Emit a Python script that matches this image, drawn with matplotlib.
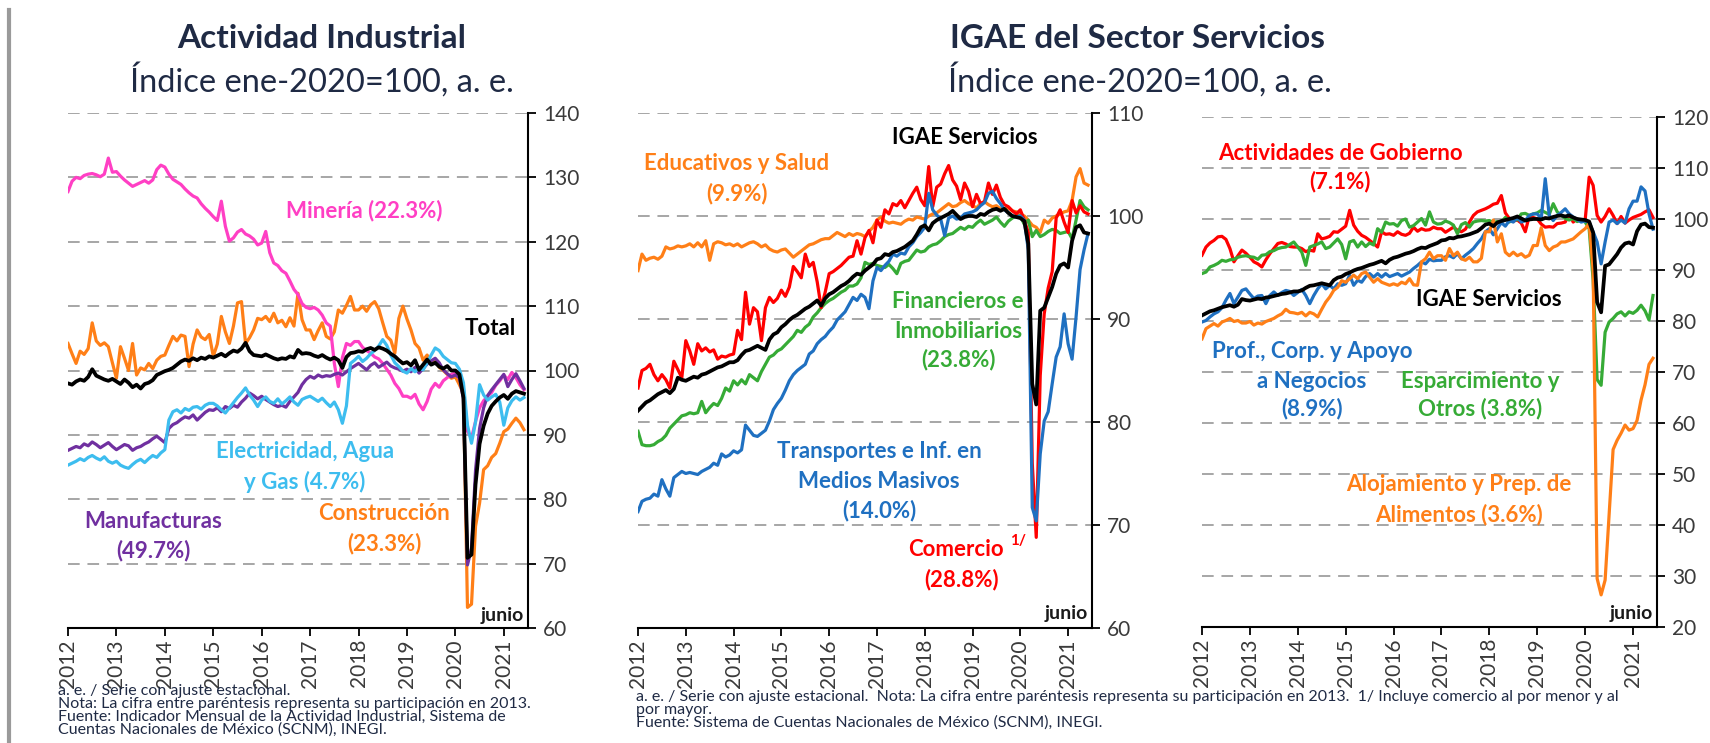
"""
Actividad Industrial e IGAE del Sector Servicios (índices ene-2020=100, a. e.)
Tres paneles con series mensuales ene-2012 a jun-2021.
"""

import numpy as np
import matplotlib
matplotlib.use("Agg")
import matplotlib.pyplot as plt

plt.rcParams["font.family"] = ["Lato", "DejaVu Sans"]

# ============================ DATOS ============================
# mensual, ene-2012 ... jun-2021 (114 observaciones)
START_YEAR = 2012
YEARS = list(range(2012, 2022))

# --- Actividad Industrial ---
ind_total = [
    98.0, 97.8, 98.3, 98.6, 98.4, 99.0, 100.2, 99.2, 98.9, 98.6, 98.4, 98.7,
    98.3, 97.9, 98.6, 98.1, 97.4, 97.8, 97.2, 97.9, 98.1, 98.5, 99.3, 99.6,
    99.9, 100.1, 100.4, 100.9, 101.4, 101.7, 101.5, 101.9, 101.6, 102.0, 101.8, 102.2,
    102.0, 102.3, 102.6, 102.2, 102.7, 103.1, 102.9, 103.4, 104.3, 103.0, 102.4, 102.3,
    102.2, 102.5, 102.2, 101.9, 101.7, 101.9, 101.8, 102.2, 102.0, 103.2, 102.6, 102.7,
    102.6, 102.3, 102.1, 102.4, 102.0, 101.7, 102.0, 101.6, 100.4, 102.1, 102.7, 102.8,
    103.0, 102.9, 103.3, 103.5, 103.2, 103.6, 103.4, 103.1, 102.6, 102.2, 101.6, 101.1,
    101.3, 100.8, 101.6, 100.1, 100.9, 101.7, 100.9, 101.2, 100.6, 100.3, 100.7, 100.0,
    100.0, 99.4, 95.8, 70.9, 71.4, 82.3, 88.6, 91.4, 93.3, 94.5, 95.2, 95.8,
    96.2, 95.6, 96.4, 96.8, 96.6, 96.4]
ind_manuf = [
    87.6, 87.9, 88.2, 88.0, 88.6, 88.3, 88.9, 88.5, 88.0, 88.4, 88.8, 88.2,
    87.7, 88.1, 88.5, 88.3, 87.6, 88.0, 88.2, 88.6, 88.9, 89.4, 89.8, 89.3,
    88.8, 91.0, 91.6, 91.9, 92.4, 92.8, 92.6, 93.1, 92.3, 92.9, 93.5, 93.9,
    93.8, 94.2, 93.6, 94.4, 94.1, 94.6, 94.3, 95.1, 95.7, 96.5, 96.1, 95.6,
    96.0, 95.5, 95.1, 94.7, 94.4, 94.6, 94.3, 95.2, 95.9, 96.6, 97.8, 98.6,
    99.1, 98.8, 99.3, 99.0, 99.2, 99.1, 99.4, 99.6, 99.3, 99.8, 100.3, 100.7,
    101.1, 100.6, 100.1, 100.8, 101.2, 100.5, 100.9, 101.3, 100.7, 100.4, 100.2, 99.9,
    100.2, 99.8, 100.5, 99.6, 100.3, 101.0, 101.5, 101.9, 101.2, 100.1, 99.5, 99.0,
    99.3, 98.9, 95.6, 69.8, 72.4, 84.5, 91.0, 94.2, 96.1, 97.0, 97.8, 98.6,
    99.4, 97.5, 98.6, 99.5, 98.4, 97.2]
ind_elec = [
    85.3, 85.6, 85.9, 86.3, 86.0, 86.5, 86.8, 86.4, 86.1, 86.6, 85.9, 85.6,
    85.9, 85.3, 85.0, 84.8, 85.4, 85.9, 86.2, 85.7, 86.3, 86.8, 86.5, 87.2,
    87.7, 92.3, 93.6, 93.9, 93.4, 94.1, 93.8, 94.3, 94.4, 94.0, 94.6, 94.9,
    94.9, 94.5, 93.9, 93.4, 94.2, 95.0, 95.8, 96.5, 97.3, 96.2, 95.4, 94.4,
    95.4, 95.9, 95.2, 94.9, 95.6, 94.8, 95.3, 95.9, 95.1, 94.6, 95.5, 95.8,
    96.0, 95.6, 95.2, 95.7, 95.0, 94.4, 95.1, 93.9, 91.8, 94.5, 101.1, 101.6,
    102.2, 101.4, 101.9, 102.6, 103.1, 103.8, 104.8, 103.9, 102.4, 101.2, 100.6, 99.9,
    99.6, 100.3, 99.8, 100.4, 100.1, 101.2, 102.4, 103.5, 103.1, 102.2, 101.7, 101.2,
    101.1, 100.2, 98.1, 91.5, 88.7, 92.0, 97.8, 96.2, 95.4, 95.9, 96.3, 95.1,
    91.5, 94.2, 95.3, 95.9, 95.4, 95.8]
ind_mineria = [
    127.8, 129.4, 130.0, 129.8, 130.3, 130.5, 130.6, 130.4, 130.1, 130.5, 133.0, 130.8,
    130.9, 130.2, 129.6, 129.1, 128.6, 128.9, 129.2, 129.5, 129.1, 129.6, 131.2, 131.9,
    131.6, 130.5, 129.7, 129.3, 128.9, 128.2, 127.6, 127.1, 126.8, 125.9, 125.2, 124.6,
    123.9, 123.3, 126.3, 122.4, 120.1, 120.6, 121.5, 121.9, 121.2, 120.9, 120.4, 119.5,
    119.8, 121.6, 118.3, 116.7, 116.3, 115.5, 115.1, 113.9, 112.6, 111.8, 110.4, 109.8,
    109.6, 109.8, 109.4, 108.6, 107.4, 106.9, 101.1, 97.5, 102.0, 104.2, 103.9, 104.5,
    104.5, 103.6, 103.1, 102.7, 102.1, 101.8, 101.1, 100.2, 99.3, 98.0, 97.2, 96.0,
    96.0, 95.7, 96.3, 94.8, 93.9, 95.2, 97.1, 98.0, 97.4, 98.4, 98.9, 99.4,
    99.6, 98.8, 97.2, 90.6, 89.5, 92.1, 94.2, 95.3, 96.0, 96.6, 97.7, 98.4,
    99.3, 98.6, 99.7, 98.9, 97.8, 97.0]
ind_constr = [
    104.2, 102.6, 101.1, 103.0, 102.5, 103.4, 107.4, 104.6, 103.9, 104.3, 103.7, 101.2,
    98.8, 103.7, 101.9, 100.0, 104.2, 99.3, 100.4, 100.1, 101.1, 100.3, 101.6, 102.2,
    102.4, 103.9, 105.3, 104.6, 105.5, 105.3, 100.6, 104.1, 106.3, 105.2, 104.8, 105.6,
    102.2, 104.1, 108.4, 106.0, 104.2, 106.9, 110.5, 110.7, 104.2, 105.1, 106.3, 108.1,
    107.9, 108.4, 107.6, 108.9, 107.4, 107.8, 106.8, 108.2, 106.9, 112.0, 107.9, 106.3,
    106.3, 104.8, 106.2, 107.4, 105.3, 104.9, 106.0, 109.4, 108.9, 110.1, 111.5, 109.4,
    109.4, 110.0, 109.2, 110.2, 110.7, 109.6, 107.4, 105.3, 104.7, 102.7, 108.1, 110.0,
    108.0, 106.3, 104.2, 103.5, 101.6, 102.4, 101.1, 101.8, 100.5, 100.0, 99.4, 98.8,
    99.0, 97.8, 96.4, 63.2, 63.7, 75.8, 79.4, 84.6, 85.2, 86.5, 87.1, 88.7,
    90.5, 90.9, 91.8, 92.6, 91.9, 90.8]

# --- IGAE Servicios ---
srv_total = [
    81.1, 81.5, 81.9, 82.1, 82.4, 82.7, 82.9, 83.1, 82.8, 83.2, 84.3, 84.1,
    84.0, 84.2, 84.4, 84.3, 84.6, 84.7, 84.9, 85.1, 85.3, 85.4, 85.6, 85.8,
    85.8, 86.0, 86.5, 86.9, 87.0, 87.2, 87.4, 87.2, 87.0, 88.0, 88.5, 88.7,
    89.2, 89.5, 89.9, 90.2, 90.4, 90.7, 91.0, 91.2, 91.5, 91.8, 91.3, 92.0,
    92.4, 92.6, 92.9, 93.2, 93.4, 93.7, 94.1, 94.4, 94.3, 94.7, 95.0, 95.3,
    95.8, 95.9, 96.3, 96.2, 96.5, 96.6, 96.8, 97.0, 97.3, 97.6, 98.2, 98.9,
    99.1, 98.6, 99.3, 99.6, 99.8, 100.0, 100.2, 100.5, 100.1, 99.7, 99.9, 100.0,
    100.0, 99.9, 100.2, 100.1, 100.4, 100.6, 100.7, 100.5, 100.7, 100.3, 100.0, 99.9,
    99.8, 99.5, 97.3, 83.7, 81.7, 90.8, 91.1, 92.1, 93.1, 94.4, 95.2, 95.4,
    95.0, 97.6, 98.9, 99.1, 98.4, 98.3]
srv_educ = [
    94.7, 96.3, 95.7, 95.9, 96.0, 95.8, 96.1, 97.0, 96.8, 96.9, 97.1, 97.0,
    97.1, 97.3, 97.0, 97.4, 97.0, 97.6, 95.7, 97.3, 97.5, 97.4, 97.2, 97.3,
    97.1, 97.3, 97.0, 97.2, 97.4, 97.5, 97.3, 97.0, 97.2, 96.8, 96.6, 96.5,
    96.7, 96.8, 96.4, 96.0, 96.3, 96.6, 96.9, 97.2, 97.3, 97.5, 97.7, 97.8,
    97.8, 98.1, 98.4, 98.2, 98.0, 98.3, 98.1, 98.3, 98.2, 98.0, 98.5, 98.9,
    99.6, 99.9, 99.5, 99.3, 99.4, 99.3, 99.2, 99.5, 99.7, 99.6, 99.9, 99.8,
    99.7, 100.0, 100.2, 100.3, 100.6, 100.9, 101.2, 100.9, 101.0, 101.3, 101.5, 101.2,
    101.0, 100.8, 101.2, 101.4, 101.1, 100.9, 101.0, 100.7, 100.6, 100.8, 100.5, 100.4,
    100.2, 100.0, 99.6, 99.1, 98.9, 98.4, 99.6, 99.3, 99.8, 100.0, 100.2, 100.4,
    100.5, 101.5, 103.8, 104.6, 103.2, 103.0]
srv_finan = [
    79.1, 77.8, 77.7, 77.7, 77.8, 78.1, 78.3, 78.7, 79.4, 79.8, 80.2, 80.6,
    80.7, 80.9, 80.8, 80.9, 82.0, 80.9, 81.4, 81.8, 81.6, 82.3, 83.3, 83.0,
    84.0, 83.6, 84.1, 83.7, 84.6, 84.3, 84.0, 84.9, 85.6, 86.3, 86.5, 86.9,
    87.1, 87.5, 87.9, 88.3, 88.9, 88.7, 89.2, 89.5, 90.2, 90.6, 91.1, 91.5,
    91.8, 92.0, 92.3, 92.6, 92.8, 93.2, 93.2, 93.4, 94.0, 95.5, 95.3, 95.4,
    95.2, 95.1, 95.0, 95.3, 94.9, 94.4, 95.4, 95.6, 95.7, 96.2, 96.7, 96.5,
    96.6, 97.0, 97.2, 97.3, 97.6, 98.0, 98.2, 98.3, 98.6, 98.9, 98.7, 99.0,
    98.9, 99.3, 99.6, 99.2, 99.4, 99.6, 99.9, 99.4, 99.0, 99.5, 99.8, 100.0,
    100.0, 99.2, 99.6, 98.0, 98.6, 98.0, 98.2, 98.5, 98.7, 98.6, 98.3, 98.4,
    98.5, 97.8, 99.6, 101.5, 100.9, 100.6]
srv_comercio = [
    83.3, 85.0, 85.2, 85.6, 84.6, 84.0, 84.6, 84.1, 83.3, 85.9, 85.1, 84.3,
    87.9, 86.9, 85.6, 87.6, 86.9, 87.2, 86.8, 87.0, 86.1, 86.4, 86.3, 86.5,
    86.6, 88.9, 88.0, 92.6, 89.5, 91.1, 90.7, 87.9, 91.1, 92.1, 91.6, 92.0,
    92.8, 92.2, 93.1, 95.1, 94.6, 94.0, 96.3, 95.1, 95.5, 93.6, 91.1, 92.6,
    94.4, 94.6, 94.9, 95.2, 95.6, 96.0, 96.1, 97.6, 96.3, 97.9, 98.6, 97.4,
    99.6, 98.9, 100.6, 100.2, 101.2, 101.0, 101.5, 100.8, 101.5, 102.2, 102.8, 101.6,
    101.0, 104.8, 100.9, 102.8, 103.1, 104.1, 104.9, 103.5, 102.9, 101.6, 103.2, 102.4,
    100.9, 102.1, 101.2, 101.4, 103.2, 102.1, 103.0, 101.8, 101.1, 100.9, 100.5, 100.2,
    100.6, 99.6, 98.4, 76.0, 68.8, 84.5, 90.5, 93.0, 94.6, 99.8, 100.6, 99.4,
    98.4, 101.5, 100.3, 101.0, 100.4, 100.2]
srv_transp = [
    71.3, 72.3, 72.5, 72.6, 73.0, 72.8, 74.4, 73.5, 72.8, 74.6, 74.9, 75.2,
    75.0, 75.1, 75.0, 74.9, 75.2, 75.4, 75.6, 76.0, 75.8, 76.9, 76.6, 76.8,
    77.2, 77.0, 77.3, 79.7, 79.2, 78.7, 78.6, 78.9, 79.2, 80.1, 81.2, 81.8,
    82.3, 83.1, 84.0, 84.6, 85.0, 85.3, 85.6, 86.6, 86.9, 87.6, 88.0, 88.3,
    88.8, 89.2, 89.9, 90.3, 90.7, 91.4, 92.1, 91.8, 92.4, 92.1, 91.0, 93.7,
    95.0, 94.7, 95.2, 95.6, 96.3, 96.1, 96.4, 96.3, 97.0, 97.4, 98.0, 98.4,
    98.9, 102.2, 100.6, 100.1, 99.7, 98.1, 99.8, 100.0, 99.7, 99.8, 100.2, 100.3,
    100.4, 100.6, 101.0, 101.3, 102.2, 102.4, 101.7, 101.2, 100.6, 100.3, 100.0, 99.9,
    100.0, 99.6, 96.7, 71.7, 70.4, 76.9, 80.1, 81.0, 83.7, 86.3, 87.3, 90.5,
    87.6, 86.1, 90.2, 94.8, 96.7, 98.3]
srv_gob = [
    92.9, 94.5, 95.3, 95.8, 96.5, 96.6, 96.0, 94.2, 91.6, 92.8, 93.9, 93.3,
    92.5, 91.6, 91.2, 90.6, 92.0, 93.2, 94.2, 95.2, 95.4, 95.1, 94.6, 94.5,
    94.5, 94.2, 93.6, 93.9, 93.7, 97.1, 96.1, 96.3, 96.6, 97.5, 97.4, 98.0,
    98.6, 101.7, 98.8, 97.6, 96.8, 96.4, 95.8, 95.2, 94.5, 97.5, 97.0, 97.1,
    96.8, 97.5, 97.0, 96.8, 97.2, 98.4, 97.6, 98.1, 97.8, 97.9, 98.4, 98.1,
    98.1, 97.4, 97.9, 98.4, 97.8, 97.5, 98.0, 99.4, 100.7, 101.4, 101.7, 102.0,
    102.4, 102.9, 103.1, 104.6, 101.2, 100.1, 99.6, 99.8, 99.2, 97.5, 100.6, 100.3,
    100.0, 99.0, 98.4, 98.5, 98.4, 99.1, 99.2, 99.4, 101.0, 99.4, 100.0, 99.6,
    99.8, 108.2, 106.6, 100.7, 99.4, 100.5, 102.0, 100.7, 99.1, 100.5, 99.2, 99.8,
    100.3, 100.6, 100.9, 101.4, 101.8, 100.3]
srv_esparc = [
    89.3, 89.6, 90.6, 90.9, 91.3, 91.9, 91.7, 92.0, 92.1, 92.5, 92.7, 92.8,
    92.6, 92.5, 92.1, 92.9, 93.0, 93.6, 93.8, 94.2, 94.4, 94.5, 95.0, 95.5,
    94.5, 93.5, 90.9, 94.5, 94.8, 95.1, 95.5, 94.2, 94.5, 95.3, 96.1, 95.0,
    92.2, 95.5, 95.8, 94.5, 95.5, 94.6, 95.3, 94.9, 98.1, 97.4, 99.4, 99.0,
    99.1, 98.6, 99.7, 100.0, 98.4, 98.7, 99.4, 100.1, 98.8, 101.4, 99.4, 99.0,
    99.1, 99.6, 99.3, 98.8, 97.1, 98.9, 99.3, 98.4, 99.4, 99.6, 99.7, 99.6,
    99.7, 99.3, 99.5, 99.4, 100.3, 99.4, 100.1, 99.8, 101.0, 101.1, 100.7, 101.0,
    101.2, 101.7, 101.3, 100.9, 103.0, 101.4, 100.7, 100.1, 99.8, 100.1, 99.5, 99.8,
    99.4, 98.1, 88.0, 68.5, 67.4, 77.8, 79.8, 80.5, 81.4, 81.8, 81.0, 81.8,
    81.5, 82.1, 83.1, 82.0, 80.2, 85.0]
srv_prof = [
    79.8, 80.1, 80.8, 81.4, 81.8, 82.6, 84.1, 85.4, 83.4, 84.7, 86.0, 86.3,
    85.3, 84.4, 84.9, 85.0, 83.4, 85.0, 85.7, 85.0, 85.6, 86.0, 85.8, 85.0,
    85.6, 86.2, 85.0, 83.4, 85.0, 86.3, 87.3, 86.3, 87.0, 86.3, 87.3, 87.0,
    87.3, 89.0, 87.0, 88.0, 87.6, 88.7, 89.3, 88.6, 89.3, 88.6, 89.3, 88.7,
    89.0, 89.3, 88.8, 89.2, 89.6, 90.3, 90.9, 91.6, 91.2, 92.1, 91.8, 91.9,
    91.9, 92.6, 92.8, 92.4, 93.2, 92.2, 92.9, 93.5, 94.2, 95.2, 96.1, 97.5,
    98.1, 96.9, 98.1, 99.3, 98.6, 99.7, 99.4, 100.3, 99.4, 99.7, 100.7, 101.0,
    101.0, 100.1, 107.9, 100.7, 99.7, 100.7, 101.3, 102.0, 101.0, 100.4, 99.9, 99.4,
    99.6, 99.4, 97.5, 95.5, 91.2, 95.5, 99.4, 99.8, 99.1, 99.8, 99.2, 102.0,
    103.5, 103.5, 106.3, 105.5, 101.0, 98.0]
srv_aloj = [
    76.5, 78.5, 79.0, 79.5, 79.0, 79.8, 80.1, 80.5, 79.9, 80.1, 79.6, 79.6,
    79.9, 79.2, 79.6, 79.4, 79.9, 80.2, 80.5, 81.0, 81.4, 82.3, 81.7, 81.6,
    81.4, 81.7, 81.0, 81.7, 81.4, 80.8, 82.3, 83.7, 84.7, 86.0, 86.6, 87.9,
    87.6, 88.3, 89.0, 88.3, 89.3, 89.6, 88.6, 87.6, 88.3, 87.6, 87.3, 87.0,
    87.3, 87.0, 87.6, 87.3, 88.3, 87.1, 87.0, 91.6, 92.2, 93.5, 92.2, 92.8,
    92.8, 91.9, 94.2, 92.8, 93.5, 92.2, 91.9, 92.5, 91.6, 91.6, 92.3, 97.5,
    97.5, 99.8, 95.5, 97.1, 93.5, 92.8, 93.5, 92.8, 93.2, 92.5, 92.9, 94.8,
    94.8, 98.3, 94.8, 93.8, 94.5, 94.8, 95.5, 95.5, 95.8, 96.1, 96.8, 97.5,
    98.1, 99.1, 90.0, 29.5, 26.3, 29.2, 42.0, 54.8, 56.6, 58.0, 59.6, 58.6,
    58.9, 60.5, 64.5, 67.5, 71.5, 72.7]

# ============================ ESTILO ============================
FIG_W, FIG_H = 1710, 743
C_TITLE = "#1f2a44"
C_TICK = "#3a3a3a"
C_GRID = "#a6a6a6"
C_PINK = "#ff3fc4"
C_ORANGE = "#ff7f17"
C_PURPLE = "#7030a0"
C_LBLUE = "#3dbdef"
C_RED = "#ff0000"
C_BLUE = "#1f70c1"
C_GREEN = "#36ab36"
LW = 2.3
LABEL_SIZE = 16
TICK_SIZE = 15


def px(x, y):
    """pixeles desde arriba-izquierda -> fracción de figura"""
    return x / FIG_W, 1 - y / FIG_H


def make_axes(fig, left, right, top, bottom, ylim, yticks):
    l, t = px(left, top)
    r, b = px(right, bottom)
    ax = fig.add_axes([l, b, r - l, t - b])
    ax.set_xlim(2012, 2021.5)
    ax.set_ylim(*ylim)
    ax.set_yticks(yticks)
    ax.set_xticks(YEARS)
    ax.set_xticklabels([str(y) for y in YEARS], rotation=90)
    ax.yaxis.tick_right()
    for s in ("left", "top"):
        ax.spines[s].set_visible(False)
    for s in ("right", "bottom"):
        ax.spines[s].set_color("black")
        ax.spines[s].set_linewidth(1.5)
    ax.tick_params(axis="y", direction="out", length=6, width=1.3, pad=5,
                   labelsize=TICK_SIZE, labelcolor=C_TICK)
    ax.tick_params(axis="x", direction="out", length=6, width=1.3, pad=2,
                   labelsize=TICK_SIZE, labelcolor=C_TICK)
    ax.yaxis.grid(True, linestyle=(0, (6, 4)), color=C_GRID, lw=1.4)
    ax.set_axisbelow(True)
    return ax


def label(fig, x, y, s, color, size=LABEL_SIZE, weight="bold", **kw):
    fx, fy = px(x, y)
    fig.text(fx, fy, s, color=color, fontsize=size, fontweight=weight,
             ha=kw.pop("ha", "center"), va=kw.pop("va", "center"), **kw)


fig = plt.figure(figsize=(FIG_W / 100, FIG_H / 100), dpi=100)
x = START_YEAR + np.arange(len(ind_total)) / 12

# línea gris vertical a la izquierda
fig.add_artist(plt.Line2D([9 / FIG_W, 9 / FIG_W], [0, 1 - 10 / FIG_H],
                          color="#9a9a9a", lw=3))

# ---------- Panel 1: Actividad Industrial ----------
ax1 = make_axes(fig, 68, 528, 113, 628, (60, 140), range(60, 141, 10))
ax1.plot(x, ind_constr, color=C_ORANGE, lw=LW)
ax1.plot(x, ind_mineria, color=C_PINK, lw=LW)
ax1.plot(x, ind_manuf, color=C_PURPLE, lw=LW)
ax1.plot(x, ind_elec, color=C_LBLUE, lw=LW)
ax1.plot(x, ind_total, color="black", lw=LW + 0.4)

# ---------- Panel 2: IGAE Servicios ----------
ax2 = make_axes(fig, 638, 1092, 113, 628, (60, 110), range(60, 111, 10))
ax2.plot(x, srv_educ, color=C_ORANGE, lw=LW)
ax2.plot(x, srv_finan, color=C_GREEN, lw=LW)
ax2.plot(x, srv_comercio, color=C_RED, lw=LW)
ax2.plot(x, srv_transp, color=C_BLUE, lw=LW)
ax2.plot(x, srv_total, color="black", lw=LW + 0.4)

# ---------- Panel 3: IGAE Servicios (resto) ----------
ax3 = make_axes(fig, 1202, 1657, 117, 627, (20, 120), range(20, 121, 10))
ax3.plot(x, srv_gob, color=C_RED, lw=LW)
ax3.plot(x, srv_esparc, color=C_GREEN, lw=LW)
ax3.plot(x, srv_prof, color=C_BLUE, lw=LW)
ax3.plot(x, srv_aloj, color=C_ORANGE, lw=LW)
ax3.plot(x, srv_total, color="black", lw=LW + 0.4)

# ---------- Títulos ----------
label(fig, 322, 38, "Actividad Industrial", C_TITLE, size=24)
label(fig, 322, 80, "Índice ene-2020=100, a. e.", C_TITLE, size=23.5, weight="normal")
label(fig, 1137, 38, "IGAE del Sector Servicios", C_TITLE, size=24)
label(fig, 1140, 80, "Índice ene-2020=100, a. e.", C_TITLE, size=23.5, weight="normal")

# ---------- Etiquetas de series: panel 1 ----------
label(fig, 364, 211, "Minería (22.3%)", C_PINK)
label(fig, 490, 328, "Total", "black")
label(fig, 305, 452, "Electricidad, Agua", C_LBLUE)
label(fig, 305, 482, "y Gas (4.7%)", C_LBLUE)
label(fig, 384, 514, "Construcción", C_ORANGE)
label(fig, 384, 544, "(23.3%)", C_ORANGE)
label(fig, 153, 521, "Manufacturas", C_PURPLE)
label(fig, 153, 551, "(49.7%)", C_PURPLE)
label(fig, 524, 616, "junio", "#1a1a1a", size=14, ha="right")

# ---------- Etiquetas de series: panel 2 ----------
label(fig, 965, 138, "IGAE Servicios", "black")
label(fig, 737, 164, "Educativos y Salud", C_ORANGE)
label(fig, 737, 194, "(9.9%)", C_ORANGE)
label(fig, 958, 302, "Financieros e", C_GREEN)
label(fig, 958, 331, "Inmobiliarios", C_GREEN)
label(fig, 958, 360, "(23.8%)", C_GREEN)
label(fig, 879, 452, "Transportes e Inf. en", C_BLUE)
label(fig, 879, 481, "Medios Masivos", C_BLUE)
label(fig, 879, 511, "(14.0%)", C_BLUE)
label(fig, 1004, 549, "Comercio", C_RED, ha="right")
label(fig, 1010, 541, "1/", C_RED, size=11, ha="left")
label(fig, 962, 580, "(28.8%)", C_RED)
label(fig, 1088, 613, "junio", "#1a1a1a", size=14, ha="right")

# ---------- Etiquetas de series: panel 3 ----------
label(fig, 1340, 153, "Actividades de Gobierno", C_RED)
label(fig, 1340, 182, "(7.1%)", C_RED)
label(fig, 1489, 299, "IGAE Servicios", "black")
label(fig, 1312, 352, "Prof., Corp. y Apoyo", C_BLUE)
label(fig, 1312, 381, "a Negocios", C_BLUE)
label(fig, 1312, 409, "(8.9%)", C_BLUE)
label(fig, 1480, 381, "Esparcimiento y", C_GREEN)
label(fig, 1480, 409, "Otros (3.8%)", C_GREEN)
label(fig, 1459, 485, "Alojamiento y Prep. de", C_ORANGE)
label(fig, 1459, 515, "Alimentos (3.6%)", C_ORANGE)
label(fig, 1653, 613, "junio", "#1a1a1a", size=14, ha="right")

# ---------- Notas ----------
NOTE_KW = dict(size=11.5, weight="normal", ha="left", va="center")
label(fig, 58, 691, "a. e. / Serie con ajuste estacional.", C_TITLE, **NOTE_KW)
label(fig, 58, 704, "Nota: La cifra entre paréntesis representa su participación en 2013.",
      C_TITLE, **NOTE_KW)
label(fig, 58, 717, "Fuente: Indicador Mensual de la Actividad Industrial, Sistema de",
      C_TITLE, **NOTE_KW)
label(fig, 58, 730, "Cuentas Nacionales de México (SCNM), INEGI.", C_TITLE, **NOTE_KW)

label(fig, 636, 697,
      "a. e. / Serie con ajuste estacional.  Nota: La cifra entre paréntesis representa "
      "su participación en 2013.  1/ Incluye comercio al por menor y al",
      C_TITLE, **NOTE_KW)
label(fig, 636, 710, "por mayor.", C_TITLE, **NOTE_KW)
label(fig, 636, 723, "Fuente: Sistema de Cuentas Nacionales de México (SCNM), INEGI.",
      C_TITLE, **NOTE_KW)

fig.savefig("out.png", dpi=100)
